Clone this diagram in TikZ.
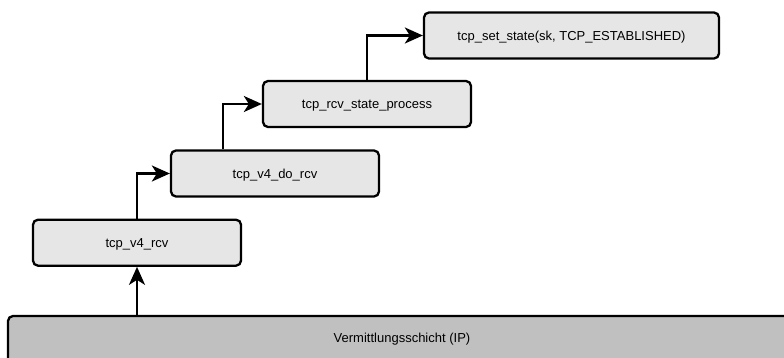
\documentclass[tikz,border=0pt]{standalone}
\usepackage{fontspec}
\setmainfont{Liberation Sans}
\usetikzlibrary{arrows.meta}
\definecolor{boxfill}{HTML}{E6E6E6}
\definecolor{layerfill}{HTML}{C0C0C0}
\tikzset{
  func/.style={draw=black, line width=2.3pt, rounded corners=5pt, fill=boxfill,
    minimum height=46pt, inner sep=0pt, text depth=-2pt, font=\fontsize{13pt}{15pt}\selectfont},
  layer/.style={draw=black, line width=2.3pt, rounded corners=5pt, fill=layerfill,
    inner sep=0pt, font=\fontsize{13pt}{15pt}\selectfont},
  flow/.style={draw=black, line width=2.3pt, -{Stealth[length=18pt 0,width=16pt 0,inset=5pt 0]}},
}
\begin{document}
\begin{tikzpicture}[x=1pt,y=-1pt]
  \useasboundingbox (0,0) rectangle (784,358);
  \begin{scope}
    \clip (0,0) rectangle (784,358);
    \node[layer, minimum width=790pt, minimum height=60pt] (ip) at (403,346) {};
    \node[font=\fontsize{13pt}{15pt}\selectfont] (iplabel) at (402,339) {Vermittlungsschicht (IP)};
  \end{scope}
  \node[func, minimum width=208pt] (v4rcv) at (137,242.7) {tcp\_v4\_rcv};
  \node[func, minimum width=208pt] (dorcv) at (275,173.5) {tcp\_v4\_do\_rcv};
  \node[func, minimum width=208pt] (rsp) at (367,104) {tcp\_rcv\_state\_process};
  \node[func, minimum width=295pt] (setst) at (571.5,35.5) {tcp\_set\_state(sk, TCP\_ESTABLISHED)};

  \draw[flow] (ip.north -| v4rcv.south) -- (v4rcv.south);
  \draw[flow] (v4rcv.north) |- (dorcv.west);
  \draw[flow] ([xshift=-52pt]dorcv.north) |- (rsp.west);
  \draw[flow] (rsp.north) |- (setst.west);
\end{tikzpicture}
\end{document}
